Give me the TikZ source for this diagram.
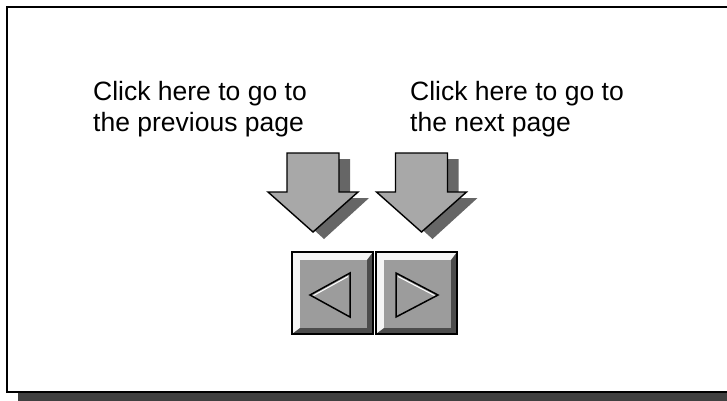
\documentclass[tikz,border=0pt]{standalone}
\usepackage{fontspec}
\setmainfont{Liberation Sans}
\usepackage{xcolor}
\usepackage{tikz}
\usetikzlibrary{positioning}

\begin{document}
\begin{tikzpicture}[x=1pt, y=-1pt,
    note/.style={align=left, inner sep=0pt, anchor=base west,
                 font=\fontsize{26.5}{31}\selectfont},
    btn/.style={draw, line width=1.4pt, fill=gray!8, inner sep=0pt,
                minimum width=81pt, minimum height=82pt,
                path picture={
                  \fill[black!70] (path picture bounding box.north east)
                    -- (path picture bounding box.south east)
                    -- (path picture bounding box.south west)
                    -- ([shift={(8pt,6pt)}]path picture bounding box.south west)
                    -- ([shift={(-6pt,6pt)}]path picture bounding box.south east)
                    -- ([shift={(-6pt,-8pt)}]path picture bounding box.north east) -- cycle;
                  \fill[gray!78] ([shift={(8pt,-8pt)}]path picture bounding box.north west)
                    rectangle ([shift={(-6pt,6pt)}]path picture bounding box.south east);}},
    tri/.style={draw=black, line width=1.5pt, line join=miter},
    shine/.style={draw=white, line width=1pt},
    downarrow/.pic={
      \fill[black!60] (-15,6) -- (37,6) -- (37,45) -- (56,45) -- (11,86) -- (-34,45) -- (-15,45) -- cycle;
      \filldraw[fill=gray!68, draw=black, line width=1.4pt, line join=miter]
        (-26,0) -- (26,0) -- (26,39) -- (45,39) -- (0,79) -- (-45,39) -- (-26,39) -- cycle;}]
  \useasboundingbox (0,0) rectangle (727,400);
  \clip (0,0) rectangle (727,400);

  % page frame and its shadow
  \fill[black!75] (18,393) rectangle (740,402);
  \draw[line width=2.8pt] (7,7) rectangle (745,392);

  % labels (base = last line)
  \node[note] (prevtxt) at (93,131) {Click here to go to\\the previous page};
  \node[note] (nexttxt) at (410,131) {Click here to go to\\the next page};

  % pointers
  \pic at (313,153) {downarrow};
  \pic at (421.5,153) {downarrow};

  % buttons
  \node[btn] (prevbtn) at (332.5,293) {};
  \node[btn] (nextbtn) at (416.5,293) {};

  \begin{scope}[shift={(prevbtn.center)}]
    \draw[tri] (-22.5,2) -- (17.5,-20) -- (17.5,24) -- cycle;
    \draw[shine] (-19,2.5) -- (15.5,-16.5);
  \end{scope}
  \begin{scope}[shift={(nextbtn.center)}]
    \draw[tri] (-20.5,-20) -- (21.5,2) -- (-20.5,24) -- cycle;
    \draw[shine] (-18.5,-16.5) -- (18,2.5);
  \end{scope}
\end{tikzpicture}
\end{document}
